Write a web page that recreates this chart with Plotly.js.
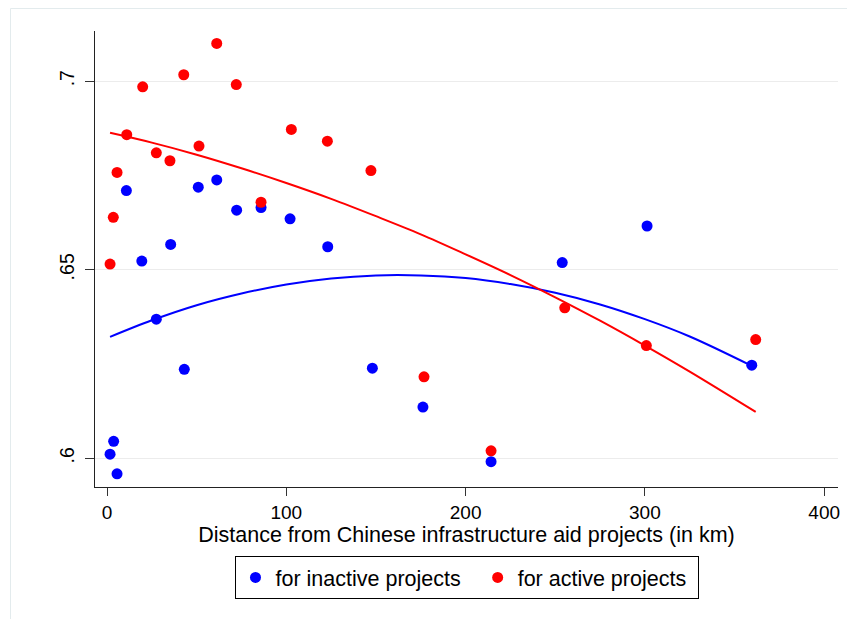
<!DOCTYPE html>
<html>
<head>
<meta charset="utf-8">
<script src="https://cdn.plot.ly/plotly-3.0.1.min.js"></script>
<style>
  html, body { margin: 0; padding: 0; background: #fff; }
  #chart { width: 847px; height: 619px; }
</style>
</head>
<body>
<div id="chart"></div>
<script>
// Distance (km) for each bin
const inactiveX = [1.7, 3.7, 5.6, 10.8, 19.4, 27.5, 35.5, 43.1, 50.9, 61.2, 72.3, 85.9, 102.1, 123.1, 148.0, 176.2, 214.2, 253.9, 301.2, 359.6];
const inactiveY = [0.6011, 0.6045, 0.5959, 0.6710, 0.6523, 0.6369, 0.6567, 0.6236, 0.6719, 0.6738, 0.6658, 0.6665, 0.6635, 0.6561, 0.6239, 0.6136, 0.5991, 0.6519, 0.6616, 0.6247];

const activeX = [1.7, 3.5, 5.6, 11.0, 19.9, 27.5, 35.1, 42.8, 51.3, 61.2, 72.1, 85.9, 102.8, 122.9, 147.2, 176.8, 214.2, 255.3, 300.8, 361.8];
const activeY = [0.6515, 0.6639, 0.6758, 0.6858, 0.6985, 0.6810, 0.6789, 0.7017, 0.6828, 0.7100, 0.6991, 0.6679, 0.6872, 0.6841, 0.6763, 0.6216, 0.6020, 0.6399, 0.6299, 0.6315];

// Quadratic fit lines
const inactiveFitX = [1.7, 25, 50, 75, 100, 125, 150, 175, 200, 225, 250, 275, 300, 325, 359.6];
const inactiveFitY = [0.6322, 0.6366, 0.6406, 0.6437, 0.6461, 0.6477, 0.6485, 0.6485, 0.6478, 0.6462, 0.6439, 0.6408, 0.6369, 0.6323, 0.6245];
const activeFitX = [1.7, 25, 50, 75, 100, 125, 150, 175, 200, 225, 250, 275, 300, 325, 361.8];
const activeFitY = [0.6863, 0.6837, 0.6805, 0.6769, 0.6730, 0.6688, 0.6642, 0.6594, 0.6541, 0.6486, 0.6427, 0.6365, 0.6299, 0.6230, 0.6123];

const xTicks = [0, 100, 200, 300, 400];
const yTicks = [0.6, 0.65, 0.7];
const yTickText = ['.6', '.65', '.7'];

const seriesNames = ['for inactive projects', 'for active projects'];
const xTitle = 'Distance from Chinese infrastructure aid projects (in km)';

const FONT = '"Liberation Sans", Arial, Helvetica, sans-serif';
const BLUE = '#0000ff';
const RED = '#ff0000';
const NB = '\u00a0';

const traces = [
  { x: inactiveFitX, y: inactiveFitY, type: 'scatter', mode: 'lines', line: {color: BLUE, width: 2, shape: 'spline'}, showlegend: false, hoverinfo: 'skip' },
  { x: activeFitX, y: activeFitY, type: 'scatter', mode: 'lines', line: {color: RED, width: 2, shape: 'spline'}, showlegend: false, hoverinfo: 'skip' },
  { x: inactiveX, y: inactiveY, type: 'scatter', mode: 'markers', name: seriesNames[0] + NB + NB, marker: {color: BLUE, size: 11, line: {width: 0}} },
  { x: activeX, y: activeY, type: 'scatter', mode: 'markers', name: seriesNames[1] + NB, marker: {color: RED, size: 11, line: {width: 0}} }
];

const layout = {
  width: 847, height: 619,
  margin: {l: 95, r: 9, t: 31, b: 132, pad: 0},
  paper_bgcolor: '#ffffff', plot_bgcolor: '#ffffff',
  font: {family: FONT, color: '#000', size: 19},
  showlegend: true,
  xaxis: {
    range: [-6.7, 407.7],
    tickvals: xTicks,
    ticktext: xTicks.map(String),
    ticks: 'outside', ticklen: 8, tickwidth: 1, tickcolor: '#333',
    showline: true, linecolor: '#222', linewidth: 1,
    showgrid: false, zeroline: false,
    tickfont: {size: 19, family: FONT, color: '#000'},
    title: {text: xTitle, font: {size: 21.5, family: FONT, color: '#000'}, standoff: 4}
  },
  yaxis: {
    range: [0.5924, 0.7133],
    tickvals: yTicks,
    ticktext: yTickText,
    tickangle: -90,
    ticks: 'outside', ticklen: 9, tickwidth: 1, tickcolor: '#333',
    ticklabelstandoff: 3,
    showline: true, linecolor: '#222', linewidth: 1,
    showgrid: true, gridcolor: '#ececec', gridwidth: 1,
    zeroline: false,
    tickfont: {size: 19.5, family: FONT, color: '#000'}
  },
  legend: {
    orientation: 'h',
    x: 0.5, xanchor: 'center',
    y: -0.1513, yanchor: 'top',
    bgcolor: '#ffffff', bordercolor: '#000', borderwidth: 1,
    font: {size: 21.5, family: FONT, color: '#000'}
  },
  shapes: [
    { type: 'rect', xref: 'paper', yref: 'paper', x0: -0.1137, x1: 1.5, y0: -1, y1: 1.0493,
      line: {color: '#e3ebed', width: 1}, fillcolor: 'rgba(0,0,0,0)', layer: 'below' }
  ]
};

Plotly.newPlot('chart', traces, layout, {displayModeBar: false, staticPlot: true});
</script>
</body>
</html>
